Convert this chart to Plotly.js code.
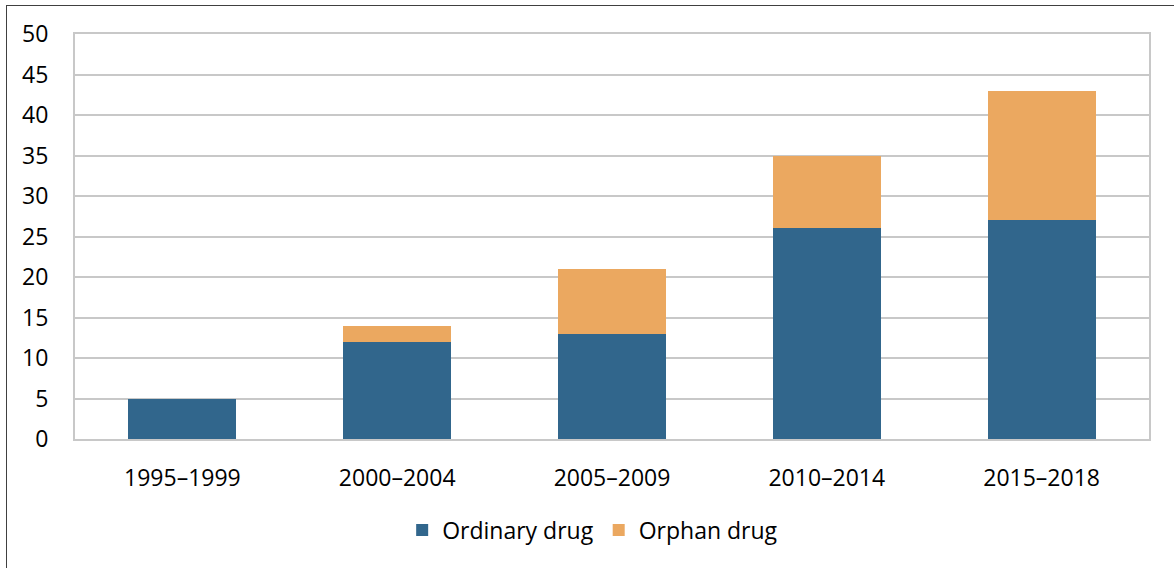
<!DOCTYPE html>
<html>
<head>
<meta charset="utf-8">
<script src="https://cdn.plot.ly/plotly-3.0.1.min.js"></script>
<style>
  html, body { margin: 0; padding: 0; background: #ffffff; overflow: hidden; }
  #chart { position: absolute; left: 0; top: 0; width: 1174px; height: 568px; }
  #frame { position: absolute; left: 6px; top: 5px; width: 1300px; height: 700px;
           border-left: 1.5px solid #404040; border-top: 1.5px solid #404040; pointer-events: none; }
</style>
</head>
<body>
<div id="chart"></div>
<div id="frame"></div>
<script>
const categories = ["1995–1999", "2000–2004", "2005–2009", "2010–2014", "2015–2018"];
const ordinaryDrug = [5, 12, 13, 26, 27];
const orphanDrug = [0, 2, 8, 9, 16];
const yTicks = [0, 5, 10, 15, 20, 25, 30, 35, 40, 45, 50];

const traces = [
  { type: "bar", name: "Ordinary drug", x: categories, y: ordinaryDrug,
    marker: { color: "#31668C" }, hoverinfo: "x+y+name" },
  { type: "bar", name: "Orphan drug", x: categories, y: orphanDrug,
    marker: { color: "#EBA860" }, hoverinfo: "x+y+name" }
];

const layout = {
  width: 1174, height: 568,
  margin: { l: 75, r: 25, t: 34, b: 129 },
  paper_bgcolor: "#ffffff", plot_bgcolor: "#ffffff",
  barmode: "stack", bargap: 0.497,
  font: { family: "Open Sans, sans-serif", size: 23, color: "#000000" },
  xaxis: {
    type: "category", showgrid: false, zeroline: false,
    showline: true, mirror: true, linecolor: "#C8C8C8", linewidth: 2,
    ticks: "", ticklabelstandoff: 17, tickfont: { size: 23 }
  },
  yaxis: {
    range: [0, 50], tickvals: yTicks, ticktext: yTicks.map(String),
    showgrid: true, gridcolor: "#C8C8C8", gridwidth: 2, zeroline: false,
    showline: true, mirror: true, linecolor: "#C8C8C8", linewidth: 2,
    ticks: "", ticklabelstandoff: 20, tickfont: { size: 23 }
  },
  showlegend: true,
  legend: {
    orientation: "h", x: 0.482, xanchor: "center", y: -0.225, yanchor: "middle",
    font: { size: 23 }, traceorder: "normal", itemwidth: 30, bgcolor: "rgba(0,0,0,0)"
  }
};

Plotly.newPlot("chart", traces, layout, { displayModeBar: false, staticPlot: true });
</script>
</body>
</html>
